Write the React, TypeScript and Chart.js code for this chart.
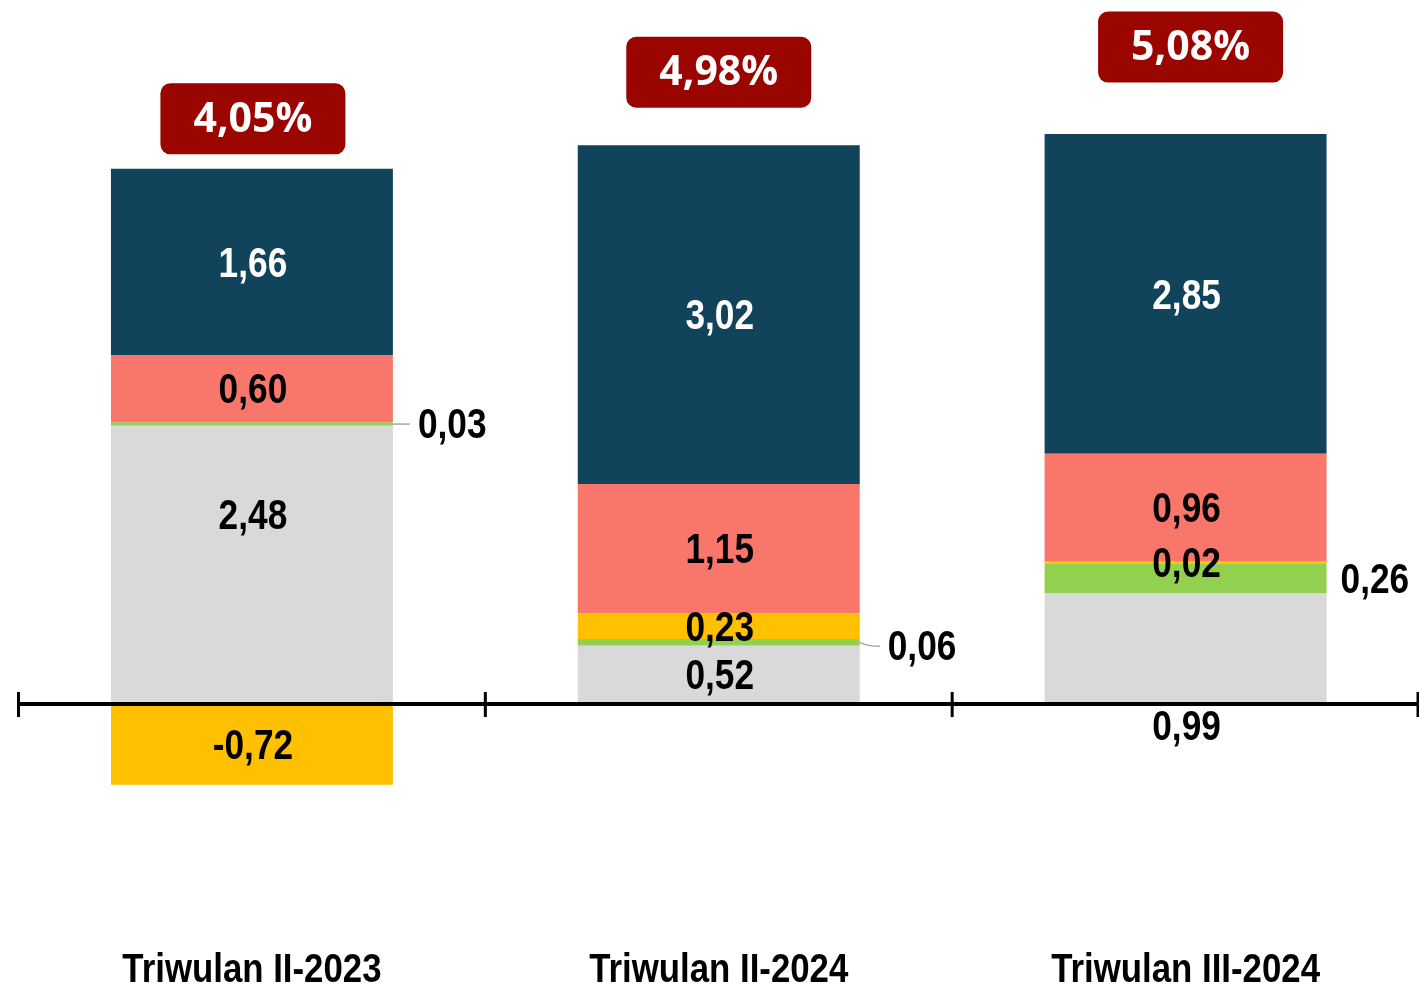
import React, { useEffect, useRef } from 'react';
import { Chart, registerables } from 'chart.js';

Chart.register(...registerables);

// ---------- data ----------
const categories = ['Triwulan II-2023', 'Triwulan II-2024', 'Triwulan III-2024'];
const greyValues = [2.48, 0.52, 0.99];
const greenValues = [0.03, 0.06, 0.26];
const yellowValues = [-0.72, 0.23, 0.02];
const salmonValues = [0.6, 1.15, 0.96];
const navyValues = [1.66, 3.02, 2.85];
const totalGrowth = [4.05, 4.98, 5.08];

// ---------- styles ----------
const COLORS = {
  grey: '#D9D9D9',
  green: '#92D050',
  yellow: '#FFC000',
  salmon: '#F8766A',
  navy: '#11435B',
  badge: '#9A0500',
};
const SANS = '"Liberation Sans", Arimo, Arial, sans-serif';
const BADGE_FONT = '"Open Sans", "Noto Sans", sans-serif';
const LABEL_SQUEEZE = 0.84; // emulate a narrow face
const CAT_SQUEEZE = 0.87;

// distance (px) from top of stacked bar to badge centre, and horizontal nudge
const badgeLift = [50, 73, 87];
const badgeShift = [1, 0, 5];

type Placement = { mode?: 'center' | 'right' | 'below'; dx?: number; dy?: number; leader?: boolean };
const labelPlacement: Record<string, Placement> = {
  '0-0': { dy: -50 },
  '0-2': { mode: 'below', dy: 24 },
  '1-0': { mode: 'right', dx: 25, dy: 2, leader: true },
  '1-1': { mode: 'right', dx: 28, dy: 6, leader: true },
  '1-2': { mode: 'right', dx: 14, dy: 3 },
};

const fmt = (v: number) => v.toFixed(2).replace('.', ',');

function narrowText(ctx: CanvasRenderingContext2D, text: string, x: number, y: number, sx: number) {
  ctx.save();
  ctx.translate(x, y);
  ctx.scale(sx, 1);
  ctx.fillText(text, 0, 0);
  ctx.restore();
}

const labelsPlugin = {
  id: 'segmentLabels',
  afterDatasetsDraw(chart: any) {
    const ctx: CanvasRenderingContext2D = chart.ctx;
    const yScale = chart.scales.y;
    const xScale = chart.scales.x;
    const zeroY = yScale.getPixelForValue(0);
    const area = chart.chartArea;

    // zero axis line with category boundary ticks
    ctx.save();
    ctx.strokeStyle = '#000';
    ctx.lineWidth = 4;
    ctx.beginPath();
    ctx.moveTo(area.left, zeroY);
    ctx.lineTo(area.right, zeroY);
    ctx.stroke();
    const n = categories.length;
    const step = (area.right - area.left) / n;
    ctx.lineWidth = 3;
    for (let i = 0; i <= n; i++) {
      let x = area.left + i * step;
      if (i === n) x = area.right - 1;
      ctx.beginPath();
      ctx.moveTo(x, zeroY - 12);
      ctx.lineTo(x, zeroY + 13);
      ctx.stroke();
    }
    ctx.restore();

    // category labels (narrow bold), positioned by the x scale
    ctx.save();
    ctx.font = `bold 40px ${SANS}`;
    ctx.fillStyle = '#000';
    ctx.textAlign = 'center';
    ctx.textBaseline = 'alphabetic';
    categories.forEach((c, i) => {
      const x = xScale.getPixelForTick(i);
      narrowText(ctx, c, x, xScale.top + 53.5, CAT_SQUEEZE);
    });
    ctx.restore();

    // segment value labels
    ctx.save();
    ctx.font = `bold 42px ${SANS}`;
    ctx.textBaseline = 'middle';
    chart.data.datasets.forEach((ds: any, di: number) => {
      const meta = chart.getDatasetMeta(di);
      meta.data.forEach((el: any, i: number) => {
        const v = ds.data[i];
        const { x, y, base, width } = el.getProps(['x', 'y', 'base', 'width'], true);
        const p = labelPlacement[`${di}-${i}`] || {};
        const mode = p.mode || 'center';
        const cy = (y + base) / 2;
        const text = fmt(v);
        if (mode === 'center') {
          ctx.fillStyle = ds.labelColor || '#000';
          ctx.textAlign = 'center';
          narrowText(ctx, text, x + 1 + (p.dx || 0), cy + 3 + (p.dy || 0), LABEL_SQUEEZE);
        } else if (mode === 'right') {
          const right = x + width / 2;
          const lx = right + (p.dx || 0);
          const ly = cy + (p.dy || 0);
          if (p.leader) {
            ctx.strokeStyle = '#A6A6A6';
            ctx.lineWidth = 1.5;
            ctx.beginPath();
            ctx.moveTo(right, cy);
            ctx.quadraticCurveTo(right + 8, ly - 2, lx - 8, ly - 2);
            ctx.stroke();
          }
          ctx.fillStyle = '#000';
          ctx.textAlign = 'left';
          narrowText(ctx, text, lx, ly, LABEL_SQUEEZE);
        } else {
          ctx.fillStyle = '#000';
          ctx.textAlign = 'center';
          narrowText(ctx, text, x + 1 + (p.dx || 0), zeroY + (p.dy || 0), LABEL_SQUEEZE);
        }
      });
    });
    ctx.restore();

    // total growth badges
    ctx.save();
    const lastMeta = chart.getDatasetMeta(chart.data.datasets.length - 1);
    lastMeta.data.forEach((el: any, i: number) => {
      const { x, y } = el.getProps(['x', 'y'], true);
      const cx = x + badgeShift[i];
      const cy = y - badgeLift[i];
      const w = 185;
      const h = 71;
      ctx.fillStyle = COLORS.badge;
      ctx.beginPath();
      (ctx as any).roundRect(cx - w / 2, cy - h / 2, w, h, 10);
      ctx.fill();
      ctx.fillStyle = '#fff';
      ctx.font = `bold 41px ${BADGE_FONT}`;
      ctx.textAlign = 'center';
      ctx.textBaseline = 'middle';
      ctx.fillText(`${fmt(totalGrowth[i])}%`, cx, cy + 1);
    });
    ctx.restore();
  },
};

export default function App() {
  const ref = useRef<HTMLCanvasElement | null>(null);

  useEffect(() => {
    if (!ref.current) return;
    const chart = new Chart(ref.current, {
      type: 'bar',
      data: {
        labels: categories,
        datasets: [
          { label: 'Komponen 1', data: greyValues, backgroundColor: COLORS.grey },
          { label: 'Komponen 2', data: greenValues, backgroundColor: COLORS.green },
          { label: 'Komponen 3', data: yellowValues, backgroundColor: COLORS.yellow },
          { label: 'Komponen 4', data: salmonValues, backgroundColor: COLORS.salmon },
          { label: 'Komponen 5', data: navyValues, backgroundColor: COLORS.navy, labelColor: '#fff' } as any,
        ],
      },
      options: {
        animation: false,
        responsive: false,
        devicePixelRatio: 1,
        layout: { padding: { top: 8.4, left: 18.5, right: 0, bottom: 0 } },
        datasets: { bar: { barPercentage: 0.604, categoryPercentage: 1, borderWidth: 0 } },
        plugins: { legend: { display: false }, tooltip: { enabled: false } },
        scales: {
          x: {
            stacked: true,
            grid: { display: false, drawTicks: false },
            border: { display: false },
            ticks: { display: false },
            afterFit: (s: any) => {
              s.height = 60.6;
            },
          },
          y: {
            stacked: true,
            display: false,
            min: -2.0,
            max: 6.2,
          },
        },
      },
      plugins: [labelsPlugin],
    });
    return () => chart.destroy();
  }, []);

  return (
    <div style={{ position: 'absolute', left: 0, top: 0, width: 1419, height: 989 }}>
      <canvas ref={ref} width={1419} height={989} style={{ display: 'block', width: 1419, height: 989 }} />
    </div>
  );
}
